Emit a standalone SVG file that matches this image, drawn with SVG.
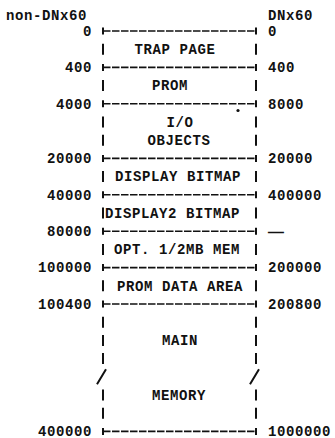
<svg xmlns="http://www.w3.org/2000/svg" width="335" height="438" viewBox="0 0 335 438">
<style>
.t{font-family:"Liberation Mono","DejaVu Sans Mono",monospace;font-size:14px;font-weight:bold;letter-spacing:0.6px;fill:#111}
.l{text-anchor:end}
.m{text-anchor:middle}
.h{stroke:#111;stroke-width:1.6;stroke-dasharray:7.5 1.5;fill:none}
.p{stroke:#111;stroke-width:2;fill:none}
.b{stroke:#111;stroke-width:2;fill:none}
</style>
<rect width="335" height="438" fill="#fff"/>
<g id="headers">
<text class="t" x="6" y="20">non-DNx60</text>
<text class="t" x="268" y="20">DNx60</text>
</g>
<g id="addresses">
<text class="t l" x="92" y="35.8">0</text><text class="t" x="268" y="35.8">0</text>
<text class="t l" x="92" y="72.2">400</text><text class="t" x="268" y="72.2">400</text>
<text class="t l" x="92" y="108.6">4000</text><text class="t" x="268" y="108.6">8000</text>
<text class="t l" x="92" y="163.2">20000</text><text class="t" x="268" y="163.2">20000</text>
<text class="t l" x="92" y="199.6">40000</text><text class="t" x="268" y="199.6">400000</text>
<text class="t l" x="92" y="236">80000</text><text class="t" x="268" y="236" textLength="17" lengthAdjust="spacingAndGlyphs">—</text>
<text class="t l" x="92" y="272.4">100000</text><text class="t" x="268" y="272.4">200000</text>
<text class="t l" x="92" y="308.8">100400</text><text class="t" x="268" y="308.8">200800</text>
<text class="t l" x="92" y="435.5">400000</text><text class="t" x="268" y="435.5">1000000</text>
</g>
<g id="connectors">
<g class="h">
<line x1="103" y1="31" x2="256" y2="31"/>
<line x1="103" y1="67.4" x2="256" y2="67.4"/>
<line x1="103" y1="103.8" x2="256" y2="103.8"/>
<line x1="103" y1="158.4" x2="256" y2="158.4"/>
<line x1="103" y1="194.8" x2="256" y2="194.8"/>
<line x1="103" y1="231.2" x2="256" y2="231.2"/>
<line x1="103" y1="267.6" x2="256" y2="267.6"/>
<line x1="103" y1="304" x2="256" y2="304"/>
<line x1="103" y1="431.4" x2="256" y2="431.4"/>
</g>
<path class="p" d="M103 27.5v7M256 27.5v7M103 63.9v7M256 63.9v7M103 100.3v7M256 100.3v7M103 154.9v7M256 154.9v7M103 191.3v7M256 191.3v7M103 227.7v7M256 227.7v7M103 264.1v7M256 264.1v7M103 300.5v7M256 300.5v7M103 427.9v7M256 427.9v7"/>
<circle cx="238" cy="110.5" r="1.6" fill="#111"/>
</g>
<g id="trap-page">
<path class="b" d="M103 43.7v11M256 43.7v11"/>
<text class="t m" x="175" y="54">TRAP PAGE</text>
</g>
<g id="prom">
<path class="b" d="M103 80.1v11M256 80.1v11"/>
<text class="t m" x="170" y="90.4">PROM</text>
</g>
<g id="io-objects">
<path class="b" d="M103 116.5v11M256 116.5v11M103 134.7v11M256 134.7v11"/>
<text class="t m" x="180" y="126.8">I/O</text>
<text class="t m" x="179" y="145">OBJECTS</text>
</g>
<g id="display-bitmap">
<path class="b" d="M103 171.1v11M256 171.1v11"/>
<text class="t m" x="178" y="181.4">DISPLAY BITMAP</text>
</g>
<g id="display2-bitmap">
<path class="b" d="M103 207.5v11M256 207.5v11"/>
<text class="t m" x="172.5" y="217.8">DISPLAY2 BITMAP</text>
</g>
<g id="opt-mem">
<path class="b" d="M103 243.9v11M256 243.9v11"/>
<text class="t m" x="177" y="254.2">OPT. 1/2MB MEM</text>
</g>
<g id="prom-data-area">
<path class="b" d="M103 280.3v11M256 280.3v11"/>
<text class="t m" x="180" y="290.6">PROM DATA AREA</text>
</g>
<g id="main-memory">
<path class="b" d="M103 316.7v11M256 316.7v11M103 334.9v11M256 334.9v11M103 353.1v11M256 353.1v11M103 389.5v11M256 389.5v11M103 407.7v11M256 407.7v11"/>
<path class="b" d="M97 384.3l9-15M250 384.3l9-15"/>
<text class="t m" x="180" y="345.2">MAIN</text>
<text class="t m" x="179" y="399.8">MEMORY</text>
</g>
</svg>
